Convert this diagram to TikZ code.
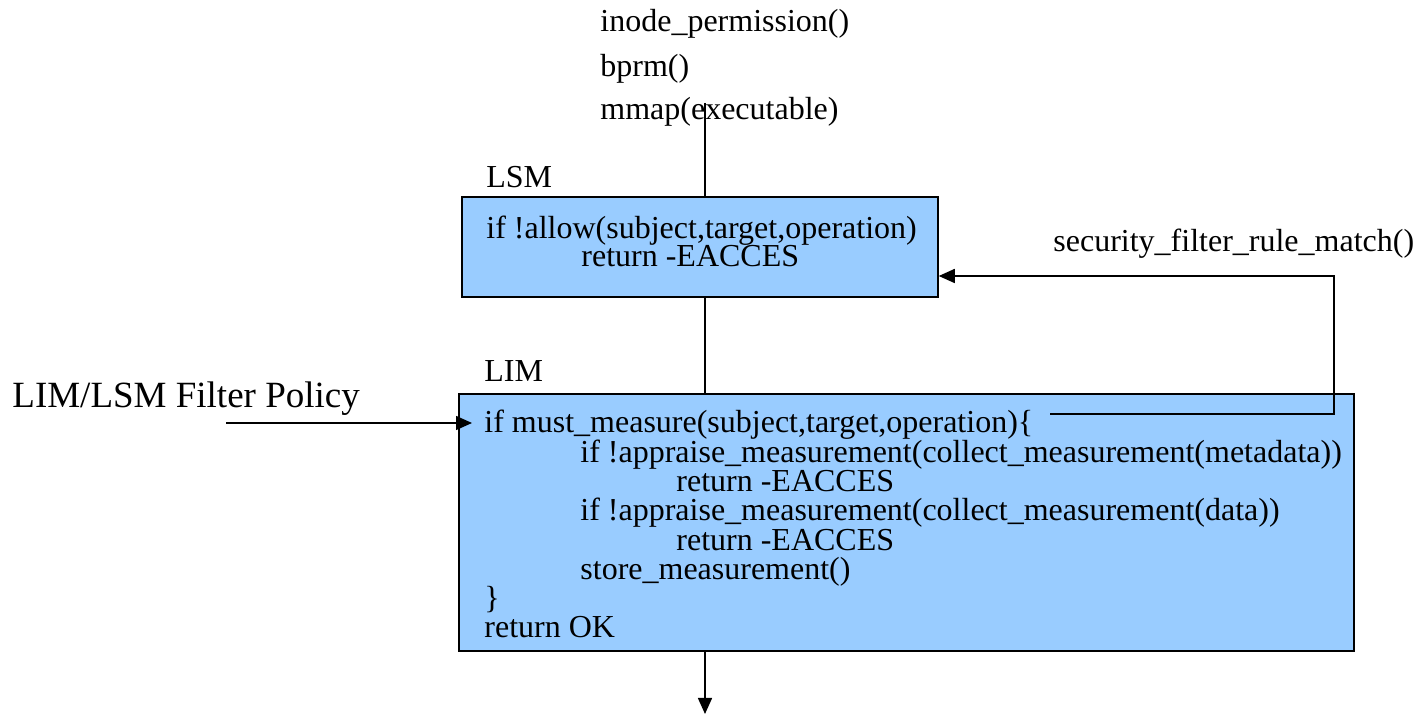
\documentclass[tikz,border=0pt]{standalone}
\usepackage{fontspec}
\setmainfont{Liberation Serif}
\usetikzlibrary{arrows.meta}
\definecolor{boxblue}{HTML}{99CCFF}
\begin{document}
\begin{tikzpicture}[x=0.5pt,y=-0.5pt,
  box/.style={draw=black,fill=boxblue,line width=0.75pt,inner sep=0pt,rectangle},
  txt/.style={anchor=base west,inner sep=0pt,font=\fontsize{16}{18}\selectfont},
  bigtxt/.style={anchor=base west,inner sep=0pt,font=\fontsize{18.5}{20}\selectfont},
  conn/.style={line width=0.75pt},
  arr/.style={line width=0.75pt,-{Triangle[length=8pt,width=7pt]}}]
\useasboundingbox (0,0) rectangle (1420,715);
% boxes
\node[box,minimum width=238pt,minimum height=50pt] (lsm) at (700,247) {};
\node[box,minimum width=447.5pt,minimum height=128.5pt] (lim) at (906.5,522.5) {};
% top texts
\node[txt] (t1) at (600,32) {inode\_permission()};
\node[txt] (t2) at (600,77) {bprm()};
\node[txt] (t3) at (600,120) {mmap(executable)};
% labels
\node[txt] (lsmlbl) at (486,188) {LSM};
\node[txt] (limlbl) at (484,382) {LIM};
\node[bigtxt] (pollbl) at (12,408) {LIM/LSM Filter Policy};
\node[txt] (seclbl) at (1053,252) {security\_filter\_rule\_match()};
% LSM text
\node[txt] (l1) at (486,239) {if !allow(subject,target,operation)};
\node[txt] (l2) at (581,267) {return -EACCES};
% LIM text
\node[txt] (m1) at (484,433) {if must\_measure(subject,target,operation)\{};
\node[txt] (m2) at (580,462.3) {if !appraise\_measurement(collect\_measurement(metadata))};
\node[txt] (m3) at (676,491.6) {return -EACCES};
\node[txt] (m4) at (580,520.9) {if !appraise\_measurement(collect\_measurement(data))};
\node[txt] (m5) at (676,550.2) {return -EACCES};
\node[txt] (m6) at (580,579.5) {store\_measurement()};
\node[txt] (m7) at (484,608.8) {\}};
\node[txt] (m8) at (484,638) {return OK};
% connectors
\coordinate (in) at (705,103);
\coordinate (out) at (705,714);
\draw[conn] (in) -- (in |- lsm.north);
\draw[conn] (lsm.south -| in) -- (lim.north -| in);
\draw[arr] (lim.south -| in) -- (out);
\coordinate (fbstart) at (1050,414);
\coordinate (fbright) at (1334,414);
\coordinate (fbtop) at (1334,276);
\draw[arr] (fbstart) -- (fbright) -- (fbtop) -- (lsm.east |- fbtop);
\coordinate (pol) at (226,423);
\coordinate (poltip) at (472,423);
\draw[arr] (pol) -- (poltip);
\end{tikzpicture}
\end{document}
